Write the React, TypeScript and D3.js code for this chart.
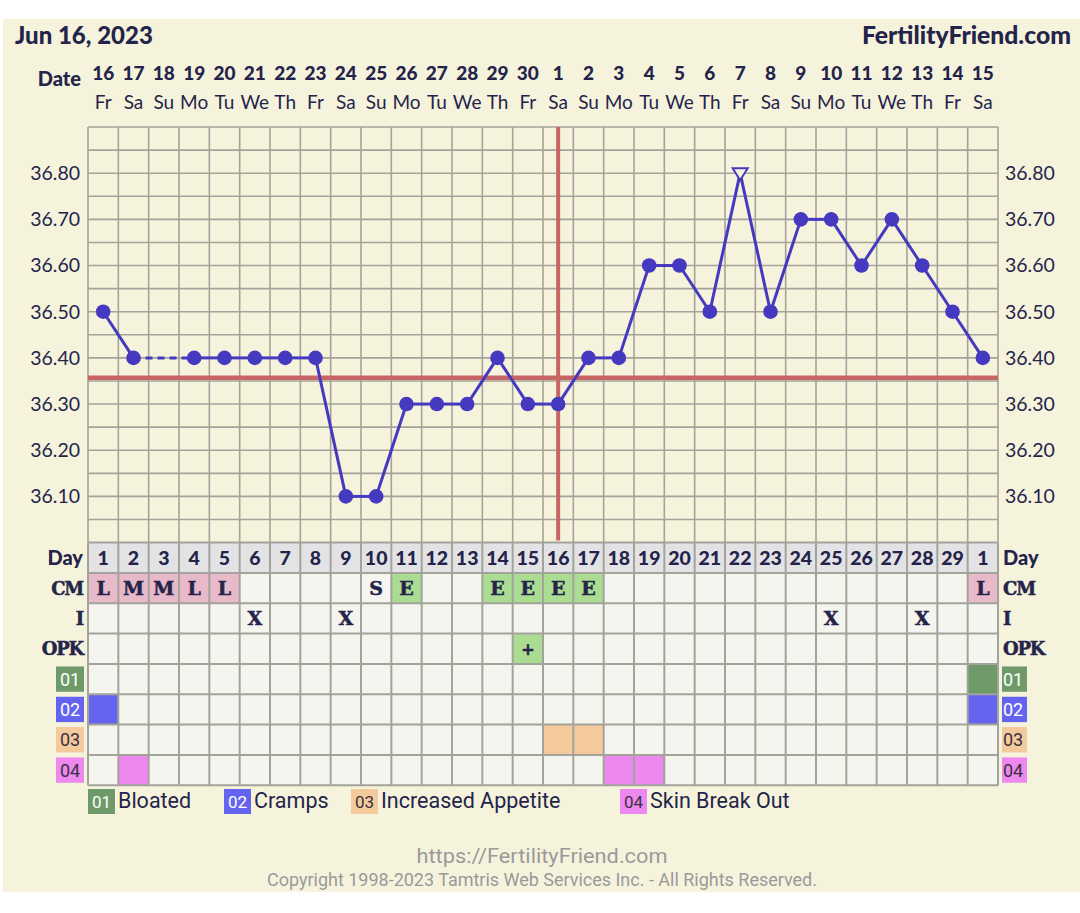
import React from "react";
import * as d3 from "d3";

const dates = ["16","17","18","19","20","21","22","23","24","25","26","27","28","29","30","1","2","3","4","5","6","7","8","9","10","11","12","13","14","15"];
const weekdays = ["Fr","Sa","Su","Mo","Tu","We","Th","Fr","Sa","Su","Mo","Tu","We","Th","Fr","Sa","Su","Mo","Tu","We","Th","Fr","Sa","Su","Mo","Tu","We","Th","Fr","Sa"];
const cycleDays = ["1","2","3","4","5","6","7","8","9","10","11","12","13","14","15","16","17","18","19","20","21","22","23","24","25","26","27","28","29","1"];
const temps: (number | null)[] = [36.5,36.4,null,36.4,36.4,36.4,36.4,36.4,36.1,36.1,36.3,36.3,36.3,36.4,36.3,36.3,36.4,36.4,36.6,36.6,36.5,36.8,36.5,36.7,36.7,36.6,36.7,36.6,36.5,36.4];
const openMarkerDays = [21];
const coverline = 36.357;
const ovulationDay = 15;
const yTicks = [36.1,36.2,36.3,36.4,36.5,36.6,36.7,36.8];

const cmRow = ["L","M","M","L","L","","","","","S","E","","","E","E","E","E","","","","","","","","","","","","","L"];
const iRow = ["","","","","","X","","","X","","","","","","","","","","","","","","","","X","","","X","",""];
const opkRow = ["","","","","","","","","","","","","","","+","","","","","","","","","","","","","","",""];
const sym01 = [29];
const sym02 = [0, 29];
const sym03 = [15, 16];
const sym04 = [1, 17, 18];
const legendCodes = ["01","02","03","04"];
const legendNames = ["Bloated","Cramps","Increased Appetite","Skin Break Out"];
const legendColors = ["#6e9a6a","#6464f0","#f4c99c","#ec88ee"];
const legendTextColors = ["#ffffff","#ffffff","#3a3040","#3a3040"];

const NAVY = "#24244a";
const BLUE = "#4539c0";
const GRID = "#a3a39b";
const RED = "#c96464";

export default function App() {
  const left = 88, right = 998;
  const x = d3.scaleBand<number>().domain(d3.range(30)).range([left, right]);
  const bw = x.bandwidth();
  const cx = (i: number) => (x(i) as number) + bw / 2;
  const y = d3.scaleLinear().domain([36.0, 36.9]).range([542.6, 127]);
  const gridVals = d3.range(36.05, 36.9001, 0.05);
  const tableTop = 542.6;
  const rowH = bw;
  const rowY = (r: number) => tableTop + r * rowH;

  const defined = temps.map((t, i) => ({ i, t })).filter(d => d.t !== null) as { i: number; t: number }[];
  const solidSegs: { a: any; b: any }[] = [];
  const dashSegs: { a: any; b: any }[] = [];
  for (let k = 0; k < defined.length - 1; k++) {
    const a = defined[k], b = defined[k + 1];
    if (b.i - a.i === 1) solidSegs.push({ a, b });
    else dashSegs.push({ a, b });
  }
  const line = d3.line<{ i: number; t: number }>().x(d => cx(d.i)).y(d => y(d.t));

  const sans = "Lato, 'Noto Sans', sans-serif";
  const slab = "'DejaVu Serif', serif";
  const rob = "Roboto, sans-serif";

  const symRows = [sym01, sym02, sym03, sym04];
  const textRows = [cmRow, iRow, opkRow];
  const cellBg = (r: number, i: number) => {
    if (r === 0) {
      const v = cmRow[i];
      if (v === "L" || v === "M") return "#e8b9c9";
      if (v === "E") return "#aadd92";
      return "#f5f5ef";
    }
    if (r === 2 && opkRow[i] === "+") return "#aadd92";
    if (r >= 3) {
      const s = r - 3;
      if (symRows[s].includes(i)) return legendColors[s];
    }
    return "#f5f5ef";
  };

  const legendX = [88, 224, 351, 620];

  return (
    <div style={{ position: "absolute", left: 0, top: 0 }}>
      <svg width={1080} height={913} style={{ display: "block", background: "#ffffff" }}>
        <rect x={3} y={19} width={1077} height={873} fill="#f6f3dd" />
        <text x={15} y={44} fontFamily={sans} fontWeight={900} fontSize={24} fill={NAVY}>Jun 16, 2023</text>
        <text x={1071} y={44} textAnchor="end" fontFamily={sans} fontWeight={900} fontSize={24} fill={NAVY} textLength={209} lengthAdjust="spacingAndGlyphs">FertilityFriend.com</text>
        <text x={81} y={86} textAnchor="end" fontFamily={sans} fontWeight={900} fontSize={20} fill={NAVY}>Date</text>
        {dates.map((d, i) => (
          <text key={"d" + i} x={cx(i)} y={80} textAnchor="middle" fontFamily={sans} fontWeight={900} fontSize={19} fill={NAVY}>{d}</text>
        ))}
        {weekdays.map((d, i) => (
          <text key={"w" + i} x={cx(i)} y={109} textAnchor="middle" fontFamily={sans} fontSize={19} fill={NAVY}>{d}</text>
        ))}

        {/* chart grid */}
        <rect x={left} y={y(36.9)} width={right - left} height={y(36.0) - y(36.9)} fill="#f6f3dd" />
        {gridVals.map((v, k) => (
          <line key={"h" + k} x1={left} x2={right} y1={y(v)} y2={y(v)} stroke={GRID} strokeWidth={1.6} />
        ))}
        {d3.range(31).map(k => (
          <line key={"v" + k} x1={left + k * bw} x2={left + k * bw} y1={y(36.9)} y2={y(36.0)} stroke={GRID} strokeWidth={1.6} />
        ))}
        {yTicks.map(v => (
          <text key={"yl" + v} x={80} y={y(v)} dy="0.35em" textAnchor="end" fontFamily={sans} fontSize={19.5} fill={NAVY}>{v.toFixed(2)}</text>
        ))}
        {yTicks.map(v => (
          <text key={"yr" + v} x={1005} y={y(v)} dy="0.35em" textAnchor="start" fontFamily={sans} fontSize={19.5} fill={NAVY}>{v.toFixed(2)}</text>
        ))}
        <line x1={left} x2={right} y1={y(coverline)} y2={y(coverline)} stroke={RED} strokeWidth={4.5} />
        <line x1={cx(ovulationDay)} x2={cx(ovulationDay)} y1={y(36.9)} y2={y(36.0) - 2} stroke={RED} strokeWidth={4} />

        {solidSegs.map((s, k) => (
          <path key={"s" + k} d={line([s.a, s.b]) as string} stroke={BLUE} strokeWidth={3} fill="none" />
        ))}
        {dashSegs.map((s, k) => (
          <path key={"ds" + k} d={line([s.a, s.b]) as string} stroke={BLUE} strokeWidth={3} strokeDasharray="7,5" fill="none" />
        ))}
        {defined.map(d =>
          openMarkerDays.includes(d.i) ? (
            <path key={"m" + d.i} d={`M${cx(d.i) - 7.5},${y(d.t) - 5}L${cx(d.i) + 7.5},${y(d.t) - 5}L${cx(d.i)},${y(d.t) + 7}Z`} fill="#f6f3dd" stroke={BLUE} strokeWidth={2} />
          ) : (
            <circle key={"m" + d.i} cx={cx(d.i)} cy={y(d.t)} r={7.3} fill={BLUE} />
          )
        )}

        {/* table */}
        {d3.range(30).map(i => (
          <rect key={"dr" + i} x={x(i)} y={rowY(0)} width={bw} height={rowH} fill="#e3e3e6" />
        ))}
        {d3.range(7).map(r =>
          d3.range(30).map(i => (
            <rect key={"c" + r + "_" + i} x={x(i)} y={rowY(r + 1)} width={bw} height={rowH} fill={cellBg(r, i)} />
          ))
        )}
        {d3.range(9).map(r => (
          <line key={"th" + r} x1={left} x2={right} y1={rowY(r)} y2={rowY(r)} stroke={GRID} strokeWidth={2} />
        ))}
        {d3.range(31).map(k => (
          <line key={"tv" + k} x1={left + k * bw} x2={left + k * bw} y1={rowY(0)} y2={rowY(8)} stroke={GRID} strokeWidth={2} />
        ))}
        {cycleDays.map((d, i) => (
          <text key={"cd" + i} x={cx(i)} y={rowY(0) + rowH / 2} dy="0.36em" textAnchor="middle" fontFamily={sans} fontWeight={900} fontSize={19.5} fill={NAVY}>{d}</text>
        ))}
        {textRows.map((row, r) =>
          row.map((v, i) =>
            v ? (
              <text key={"tx" + r + "_" + i} x={cx(i)} y={rowY(r + 1) + rowH / 2} dy="0.36em" textAnchor="middle" fontFamily={slab} fontWeight={700} fontSize={v === "+" ? 16 : 19} fill={NAVY} stroke={NAVY} strokeWidth={0.5}>{v}</text>
            ) : null
          )
        )}
        {["Day", "CM", "I", "OPK"].map((lab, r) => (
          <g key={"rl" + r}>
            <text x={83} y={rowY(r) + rowH / 2} dy="0.36em" textAnchor="end" fontFamily={r === 0 ? sans : slab} fontWeight={900} fontSize={r === 0 ? 20 : 18} fill={NAVY} stroke={r === 0 ? "none" : NAVY} strokeWidth={0.5} letterSpacing={r === 0 ? 0 : -1.2}>{lab}</text>
            <text x={1003} y={rowY(r) + rowH / 2} dy="0.36em" textAnchor="start" fontFamily={r === 0 ? sans : slab} fontWeight={900} fontSize={r === 0 ? 20 : 18} fill={NAVY} stroke={r === 0 ? "none" : NAVY} strokeWidth={0.5} letterSpacing={r === 0 ? 0 : -1.2}>{lab}</text>
          </g>
        ))}
        {legendCodes.map((c, s) => (
          <g key={"bl" + s}>
            <rect x={56} y={rowY(s + 4) + 2.5} width={28} height={rowH - 5} fill={legendColors[s]} />
            <text x={70} y={rowY(s + 4) + rowH / 2} dy="0.36em" textAnchor="middle" fontFamily={rob} fontSize={18} fill={legendTextColors[s]}>{c}</text>
            <rect x={1002} y={rowY(s + 4) + 2.5} width={25} height={rowH - 5} fill={legendColors[s]} />
            <text x={1003} y={rowY(s + 4) + rowH / 2} dy="0.36em" textAnchor="start" fontFamily={rob} fontSize={18} fill={legendTextColors[s]}>{c}</text>
          </g>
        ))}

        {/* legend */}
        {legendCodes.map((c, s) => (
          <g key={"lg" + s}>
            <rect x={legendX[s]} y={789} width={27} height={25} fill={legendColors[s]} />
            <text x={legendX[s] + 13.5} y={801.5} dy="0.36em" textAnchor="middle" fontFamily={rob} fontSize={17} fill={legendTextColors[s]}>{c}</text>
            <text x={legendX[s] + 30} y={800.5} dy="0.36em" fontFamily={rob} fontSize={21.5} fill={NAVY}>{legendNames[s]}</text>
          </g>
        ))}

        <text x={542} y={863} textAnchor="middle" fontFamily={rob} fontSize={20} fill="#9a9a9a" textLength={251} lengthAdjust="spacingAndGlyphs">https://FertilityFriend.com</text>
        <text x={542} y={886} textAnchor="middle" fontFamily={rob} fontSize={17.5} fill="#9a9a9a" textLength={550} lengthAdjust="spacingAndGlyphs">Copyright 1998-2023 Tamtris Web Services Inc. - All Rights Reserved.</text>
      </svg>
    </div>
  );
}
